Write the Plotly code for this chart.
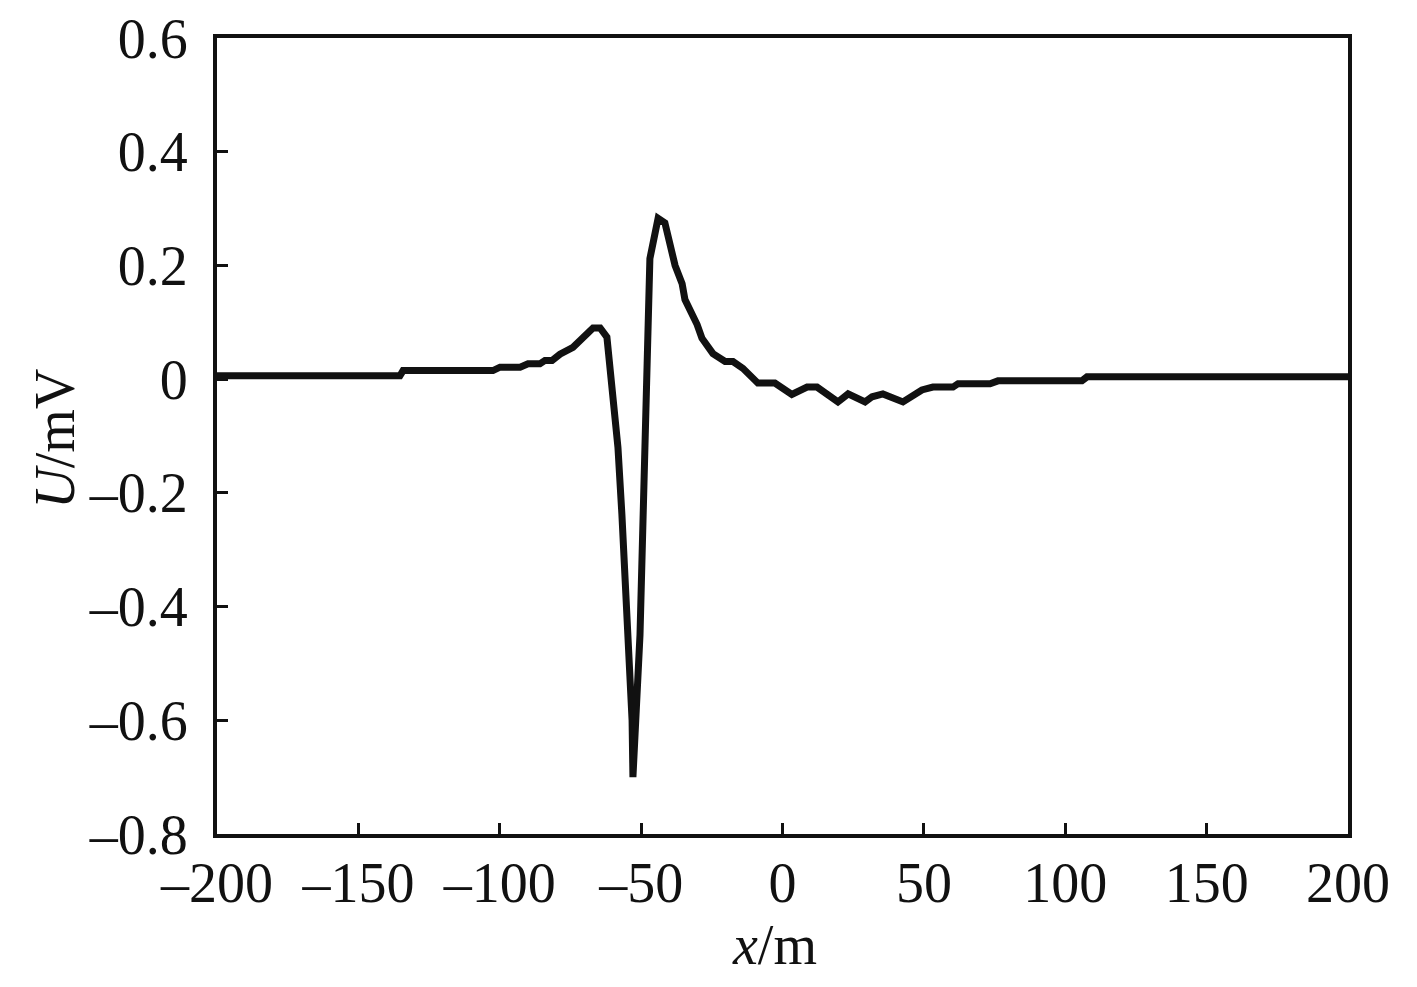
import plotly.graph_objects as go

x_m = [-200, -135.3, -134.2, -102.4, -99.9, -92.8, -90.0, -85.8, -84.0, -81.5,
       -78.7, -74.1, -67.0, -64.5, -62.1, -60.6, -58.2, -56.8, -55.7, -54.6,
       -53.2, -52.9, -51.8, -50.4, -46.9, -44.0, -41.6, -39.8, -38.0, -35.5,
       -34.5, -30.2, -28.5, -24.6, -20.3, -17.5, -14.0, -8.7, -2.7, 3.3,
       8.7, 12.2, 19.6, 23.2, 25.6, 29.2, 31.7, 35.5, 42.6, 49.3,
       53.2, 60.3, 62.1, 73.4, 76.2, 105.9, 107.7, 200]
u_mv = [0.006, 0.006, 0.015, 0.015, 0.021, 0.021, 0.027, 0.027, 0.033, 0.033,
        0.044, 0.056, 0.090, 0.090, 0.074, -0.005, -0.120, -0.238, -0.355, -0.472,
        -0.60, -0.700, -0.588, -0.450, 0.212, 0.283, 0.275, 0.236, 0.200, 0.168,
        0.140, 0.096, 0.072, 0.045, 0.031, 0.031, 0.019, -0.007, -0.007, -0.027,
        -0.014, -0.014, -0.040, -0.026, -0.031, -0.040, -0.031, -0.026, -0.040, -0.019,
        -0.014, -0.014, -0.008, -0.008, -0.003, -0.003, 0.004, 0.004]

x_ticks = [-200, -150, -100, -50, 0, 50, 100, 150, 200]
y_ticks = [-0.8, -0.6, -0.4, -0.2, 0, 0.2, 0.4, 0.6]


def lab(v, fmt):
    s = fmt.format(abs(v))
    return ("\u2013" + s) if v < 0 else s


x_labels = [lab(v, "{:g}") for v in x_ticks]
y_labels = ["0" if v == 0 else lab(v, "{:.1f}") for v in y_ticks]

font_family = "Liberation Serif, Times New Roman, serif"

fig = go.Figure()
fig.add_trace(go.Scatter(x=x_m, y=u_mv, mode="lines",
                         line=dict(color="#111111", width=7), showlegend=False))

axis_common = dict(showgrid=False, zeroline=False, showline=True, linecolor="#111111",
                   linewidth=4, mirror=True, ticks="inside", ticklen=11, tickwidth=3,
                   tickcolor="#111111", ticklabeloverflow="allow",
                   tickfont=dict(family=font_family, size=56, color="#111111"))

fig.update_xaxes(range=[-200, 200], tickvals=x_ticks, ticktext=x_labels,
                 ticklabelstandoff=-3, **axis_common)
fig.update_yaxes(range=[-0.8, 0.6], tickvals=y_ticks, ticktext=y_labels,
                 ticklabelstandoff=14, **axis_common)

fig.add_annotation(text="<i>U</i>/mV", xref="paper", yref="paper", x=-0.143, y=0.497,
                   xanchor="center", yanchor="middle", textangle=-90, showarrow=False,
                   font=dict(family=font_family, size=56, color="#111111"))
fig.add_annotation(text="<i>x</i>/m", xref="paper", yref="paper", x=0.493, y=-0.14,
                   xanchor="center", yanchor="middle", showarrow=False,
                   font=dict(family=font_family, size=56, color="#111111"))

fig.update_layout(width=1417, height=987, paper_bgcolor="white", plot_bgcolor="white",
                  margin=dict(l=209, r=77, t=30, b=161, autoexpand=False))

fig.write_html("out.html")
